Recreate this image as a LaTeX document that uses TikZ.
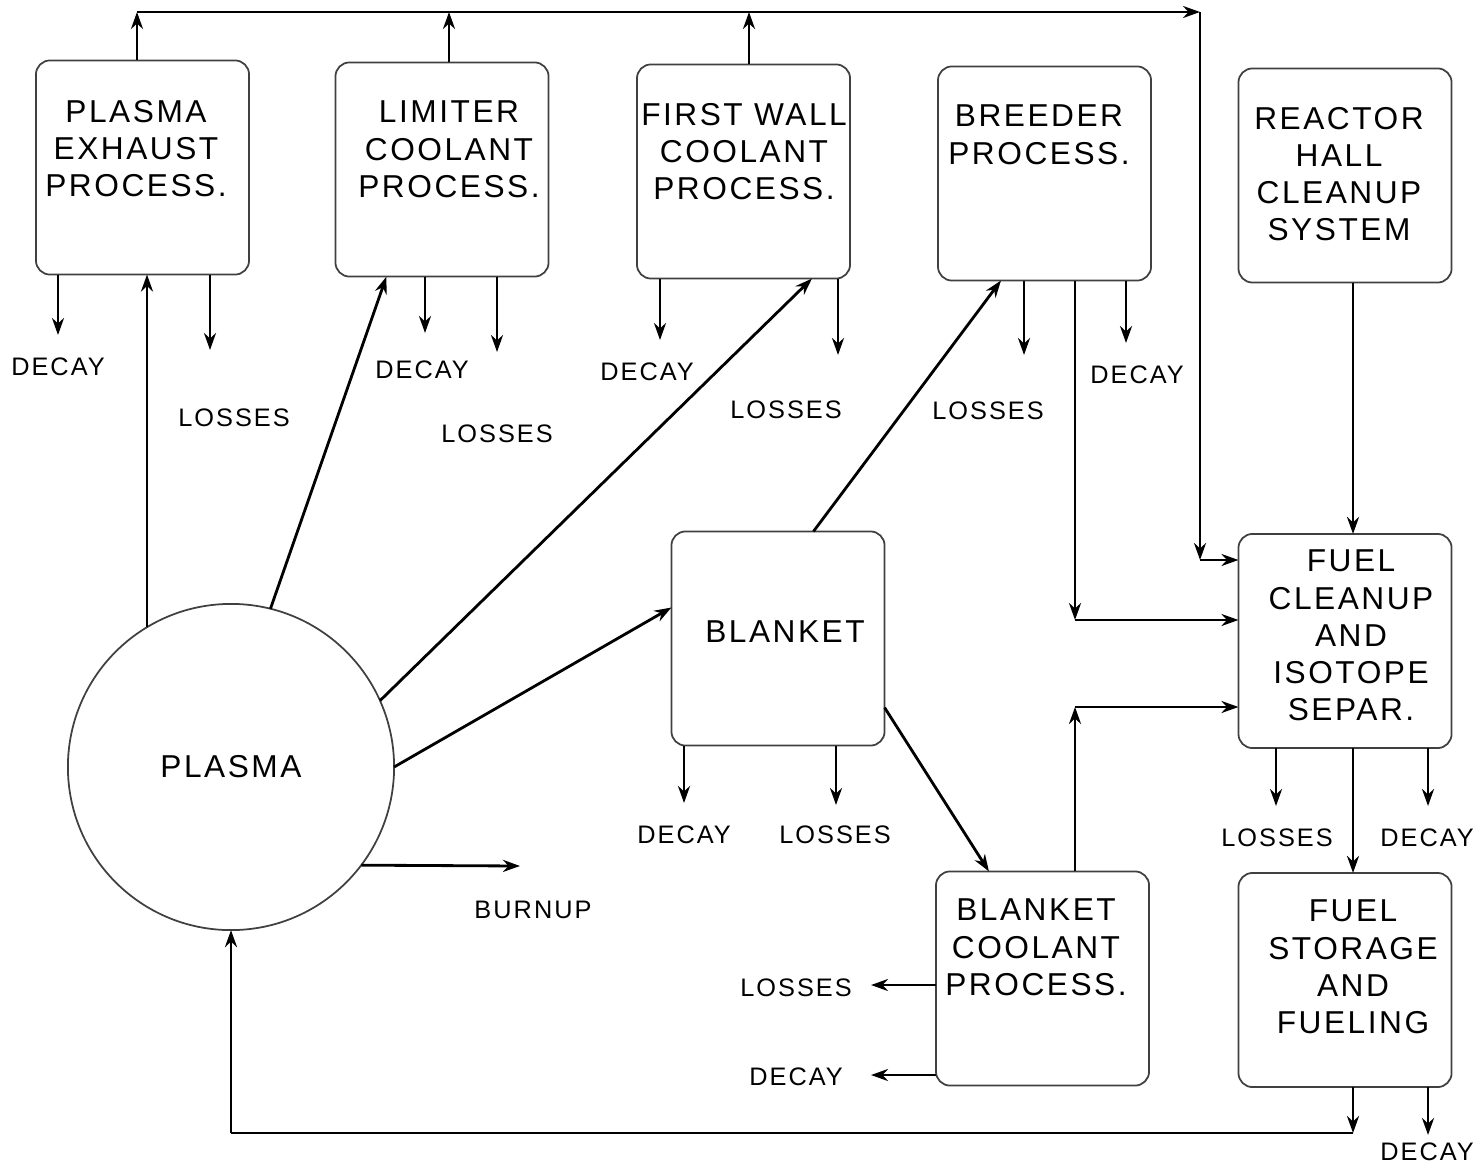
\documentclass[tikz,border=0pt]{standalone}
\usepackage{fontspec}
\setmainfont{Liberation Sans}[LetterSpace=8]
\usetikzlibrary{arrows.meta,positioning,calc}
\newcommand{\bxf}{\fontsize{9}{10.6}\selectfont}
\newcommand{\lbf}{\fontsize{7.2}{8}\selectfont}

\begin{document}
\begin{tikzpicture}[x=0.01cm, y=-0.01cm,
  every node/.style={inner sep=0pt, outer sep=0pt},
  proc/.style={draw=black!75, line width=0.5pt, rounded corners=4pt, minimum width=2.13cm, minimum height=2.14cm},
  ptxt/.style={anchor=north, align=center, font=\bxf},
  lbl/.style={font=\lbf},
  flow/.style={-{Stealth[length=1.7mm, width=1.2mm]}, line width=0.8pt},
  pipe/.style={line width=0.8pt}]
\useasboundingbox (0,0) rectangle (1480,1167);
% ---- process boxes
\node[proc] (pex) at (142.5,167.5) {};
\node[proc] (lim) at (442,169.5) {};
\node[proc] (fw) at (743.5,171.5) {};
\node[proc] (brd) at (1044.5,173.5) {};
\node[proc] (rhc) at (1345,175.5) {};
\node[proc] (blk) at (778,638.5) {};
\node[proc] (fci) at (1345,641) {};
\node[proc] (bcp) at (1042.5,978.5) {};
\node[proc] (fsf) at (1345,980) {};
\node[draw=black!75, line width=0.5pt, circle, minimum size=3.26cm, font=\bxf] (plasma) at (231,767) {PLASMA};
% ---- box texts
\node[ptxt] (pext) at (136,100) {PLASMA\\EXHAUST\\PROCESS.};
\node[ptxt] (limt) at (449,101) {LIMITER\\COOLANT\\PROCESS.};
\node[ptxt] (fwt) at (744,103) {FIRST WALL\\COOLANT\\PROCESS.};
\node[ptxt] (brdt) at (1039,105) {BREEDER\\PROCESS.};
\node[ptxt] (rhct) at (1339,107) {REACTOR\\HALL\\CLEANUP\\SYSTEM};
\node[ptxt] (blkt) at (785,621) {BLANKET};
\node[ptxt] (fcit) at (1351,550) {FUEL\\CLEANUP\\AND\\ISOTOPE\\SEPAR.};
\node[ptxt] (bcpt) at (1036,899) {BLANKET\\COOLANT\\PROCESS.};
\node[ptxt] (fsft) at (1353,900) {FUEL\\STORAGE\\AND\\FUELING};
% ---- labels
\node[lbl] (d1) at (58,367) {DECAY};
\node[lbl] (l1) at (234,418) {LOSSES};
\node[lbl] (d2) at (422,370) {DECAY};
\node[lbl] (l2) at (497,434) {LOSSES};
\node[lbl] (d3) at (647,372) {DECAY};
\node[lbl] (l3) at (786,410) {LOSSES};
\node[lbl] (l4) at (988,411) {LOSSES};
\node[lbl] (d4) at (1137,375) {DECAY};
\node[lbl] (d5) at (684,835) {DECAY};
\node[lbl] (l5) at (835,835) {LOSSES};
\node[lbl] (burn) at (533,910) {BURNUP};
\node[lbl] (l6) at (1277,838) {LOSSES};
\node[lbl] (d6) at (1427,838) {DECAY};
\node[lbl] (l7) at (796,988) {LOSSES};
\node[lbl] (d7) at (796,1077) {DECAY};
\node[lbl] (d8) at (1427,1152) {DECAY};
% ---- outlet ends
\coordinate (e1) at (58,335);
\coordinate (e2) at (210,350);
\coordinate (e3) at (425,333);
\coordinate (e4) at (497,352);
\coordinate (e5) at (660,340);
\coordinate (e6) at (838,355);
\coordinate (e7) at (1024,355);
\coordinate (e8) at (1126,343);
\coordinate (e9) at (684,803);
\coordinate (e10) at (836,805);
\coordinate (e11) at (1276,806);
\coordinate (e12) at (1428,806);
\coordinate (e13) at (1428,1135);
\coordinate (e14) at (871,985);
\coordinate (e15) at (871,1075);
\coordinate (bu) at (520,866);
\foreach \e/\b in {e1/pex,e2/pex,e3/lim,e4/lim,e5/fw,e6/fw,e7/brd,e8/brd,e9/blk,e10/blk,e11/fci,e12/fci,e13/fsf}
  \draw[flow] (\e |- \b.south) -- (\e);
\draw[flow] (e14 -| bcp.west) -- (e14);
\draw[flow] (e15 -| bcp.west) -- (e15);
\draw[flow] (plasma.-37) -- (bu);
% ---- top collector to fuel cleanup
\coordinate (t1) at (137,12);
\coordinate (t2) at (449,12);
\coordinate (t3) at (749,12);
\coordinate (t4) at (1200,12);
\coordinate (t5) at (1200,560);
\draw[flow] (t1 |- pex.north) -- (t1);
\draw[flow] (t2 |- lim.north) -- (t2);
\draw[flow] (t3 |- fw.north) -- (t3);
\draw[flow] (t1) -- (t4);
\draw[flow] (t4) -- (t5);
\draw[flow] (t5) -- (t5 -| fci.west);
% ---- plasma outflows
\draw[flow] (plasma.121) -- (plasma.121 |- pex.south);
\draw[flow] (plasma.76) -- ($(lim.south west)+(51,0)$);
\draw[flow] (plasma.24) -- ($(fw.south west)+(175,0)$);
\draw[flow] (plasma.0) -- ($(blk.west)+(0,-31)$);
\draw[flow] ($(blk.north west)+(142,0)$) -- ($(brd.south west)+(63,0)$);
\draw[flow] ($(blk.south east)+(0,-38)$) -- ($(bcp.north west)+(53,0)$);
% ---- breeder and blanket coolant to fuel cleanup
\coordinate (b1) at (1075,620);
\coordinate (k1) at (1075,707);
\draw[flow] (b1 |- brd.south) -- (b1);
\draw[flow] (b1) -- (b1 -| fci.west);
\draw[flow] (k1 |- bcp.north) -- (k1);
\draw[flow] (k1) -- (k1 -| fci.west);
% ---- fuel column
\coordinate (r1) at (1353,0);
\draw[flow] (r1 |- rhc.south) -- (r1 |- fci.north);
\draw[flow] (r1 |- fci.south) -- (r1 |- fsf.north);
\coordinate (f1) at (1353,1133);
\coordinate (f2) at (231,1133);
\draw[flow] (f1 |- fsf.south) -- (f1);
\draw[pipe] (f1) -- (f2);
\draw[flow] (f2) -- (plasma.south);
\end{tikzpicture}
\end{document}
